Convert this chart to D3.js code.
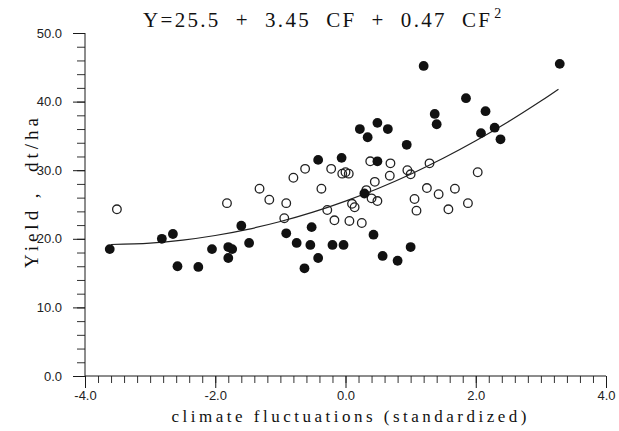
<!DOCTYPE html>
<html><head><meta charset="utf-8">
<script src="https://cdn.jsdelivr.net/npm/d3@7"></script>
<style>html,body{margin:0;padding:0;background:#fff;}svg{display:block;}</style>
</head><body>
<script>
// ---- data ----
const filledX = [-3.62,-2.82,-2.65,-2.58,-2.26,-2.05,-1.80,-1.74,-1.80,-1.60,-1.48,-0.91,-0.75,-0.52,-0.54,-0.42,-0.63,-0.20,-0.03,0.43,0.57,0.80,1.00,-0.42,-0.06,0.49,0.22,0.34,0.49,0.65,0.94,1.37,1.40,1.20,3.29,1.85,2.15,2.08,2.29,2.38,0.29];
const filledY = [18.5,20.0,20.7,16.0,15.9,18.5,18.8,18.5,17.2,21.9,19.4,20.8,19.4,21.7,19.1,17.2,15.7,19.1,19.1,20.6,17.5,16.8,18.8,31.5,31.8,31.3,36.0,34.8,36.9,36.0,33.7,38.2,36.7,45.2,45.5,40.5,38.6,35.4,36.2,34.5,26.6];
const openX = [-3.51,-1.82,-1.32,-1.17,-0.91,-0.94,-0.80,-0.62,-0.37,-0.22,-0.05,0.00,0.05,-0.28,-0.17,0.06,0.25,0.10,0.14,0.32,0.40,0.49,0.38,0.69,0.68,0.45,0.95,1.00,1.29,1.25,1.06,1.09,1.43,2.03,1.68,1.88,1.58];
const openY = [24.3,25.2,27.3,25.7,25.2,23.0,28.9,30.2,27.3,30.2,29.5,29.7,29.5,24.2,22.7,22.6,22.3,25.1,24.6,27.1,25.9,25.5,31.3,31.0,29.2,28.3,30.0,29.4,31.0,27.4,25.8,24.1,26.5,29.7,27.3,25.2,24.3];
// fitted curve (Y = 25.5 + 3.45 CF + 0.47 CF^2)
const curveX = [-3.6,-3.0,-2.5,-2.0,-1.5,-1.0,-0.5,0,0.5,1.0,1.5,2.0,2.5,3.0,3.27];
const curveY = [19.17,19.38,19.81,20.48,21.38,22.52,23.89,25.5,27.34,29.42,31.73,34.28,37.06,40.08,41.81];
const xTicks = [-4,-2,0,2,4];
const yTicks = [0,10,20,30,40,50];
const titleMain = "Y=25.5  +  3.45  CF  +  0.47  CF";
const titleSup = "2";
const xLabel = "climate fluctuations (standardized)";
const yLabel = "Yield ,  dt/ha";

const W = 619, H = 431;
const svg = d3.select("body").append("svg").attr("width", W).attr("height", H);
const x = d3.scaleLinear().domain([-4,4]).range([85,606]);
const y = d3.scaleLinear().domain([0,50]).range([376,33]);

const ink = "#1a1a1a";
// x axis
const gx = svg.append("g").attr("transform", `translate(0,${y(0)})`);
gx.call(d3.axisBottom(x).tickValues(d3.range(-4,4.001,0.2)).tickSize(7).tickFormat(""))
  .call(g=>g.select(".domain").remove());
gx.call(g=>g.selectAll("line").attr("stroke","#333").attr("stroke-width",1));
const gx2 = svg.append("g").attr("transform", `translate(0,${y(0)})`)
  .call(d3.axisBottom(x).tickValues(xTicks).tickSize(12).tickPadding(3).tickFormat(d=>d3.format(".1f")(d).replace("\u2212","-")));
gx2.select(".domain").attr("stroke",ink).attr("d",`M${x(-4)},0H${x(4)}`);
gx2.selectAll("line").attr("stroke",ink);
gx2.selectAll("text").attr("font-family","Liberation Sans, Arial, sans-serif").attr("font-size",13).attr("fill","#222");

// y axis
const gy = svg.append("g").attr("transform", `translate(${x(-4)},0)`);
gy.call(d3.axisLeft(y).tickValues(d3.range(0,50.001,2)).tickSize(8).tickFormat(""))
  .call(g=>g.select(".domain").remove());
gy.selectAll("line").attr("stroke","#333");
const gy2 = svg.append("g").attr("transform", `translate(${x(-4)},0)`)
  .call(d3.axisLeft(y).tickValues(yTicks).tickSize(12).tickPadding(11).tickFormat(d3.format(".1f")));
gy2.select(".domain").attr("stroke",ink).attr("d",`M0,${y(0)}V${y(50)}`);
gy2.selectAll("line").attr("stroke",ink);
gy2.selectAll("text").attr("font-family","Liberation Sans, Arial, sans-serif").attr("font-size",13).attr("fill","#222");

// curve
const line = d3.line().x(d=>x(d[0])).y(d=>y(d[1])).curve(d3.curveCatmullRom);
svg.append("path").datum(curveX.map((v,i)=>[v,curveY[i]]))
  .attr("d", line).attr("fill","none").attr("stroke","#222").attr("stroke-width",1.2);

// points
svg.append("g").selectAll("circle").data(openX.map((v,i)=>[v,openY[i]])).join("circle")
  .attr("cx",d=>x(d[0])).attr("cy",d=>y(d[1])).attr("r",4.3)
  .attr("fill","none").attr("stroke","#222").attr("stroke-width",1.3);
svg.append("g").selectAll("circle").data(filledX.map((v,i)=>[v,filledY[i]])).join("circle")
  .attr("cx",d=>x(d[0])).attr("cy",d=>y(d[1])).attr("r",4.9).attr("fill","#111");

// title
const t = svg.append("text").attr("x",143).attr("y",27)
  .attr("font-family","Liberation Serif, Times New Roman, serif").attr("font-size",21).attr("fill","#111")
  .style("white-space","pre");
t.append("tspan").text(titleMain).attr("textLength",347).attr("lengthAdjust","spacing");
t.append("tspan").text(titleSup).attr("font-size",14).attr("dx",2).attr("dy",-9);

// axis labels
svg.append("text").attr("x",349).attr("y",422).attr("text-anchor","middle")
  .attr("font-family","Liberation Serif, Times New Roman, serif").attr("font-size",17).attr("fill","#111")
  .attr("textLength",355).attr("lengthAdjust","spacing").text(xLabel);
svg.append("text").attr("transform","translate(38,193) rotate(-90)").attr("text-anchor","middle")
  .attr("font-family","Liberation Serif, Times New Roman, serif").attr("font-size",19).attr("fill","#111")
  .style("white-space","pre")
  .attr("textLength",150).attr("lengthAdjust","spacing").text(yLabel);
</script>
</body></html>
